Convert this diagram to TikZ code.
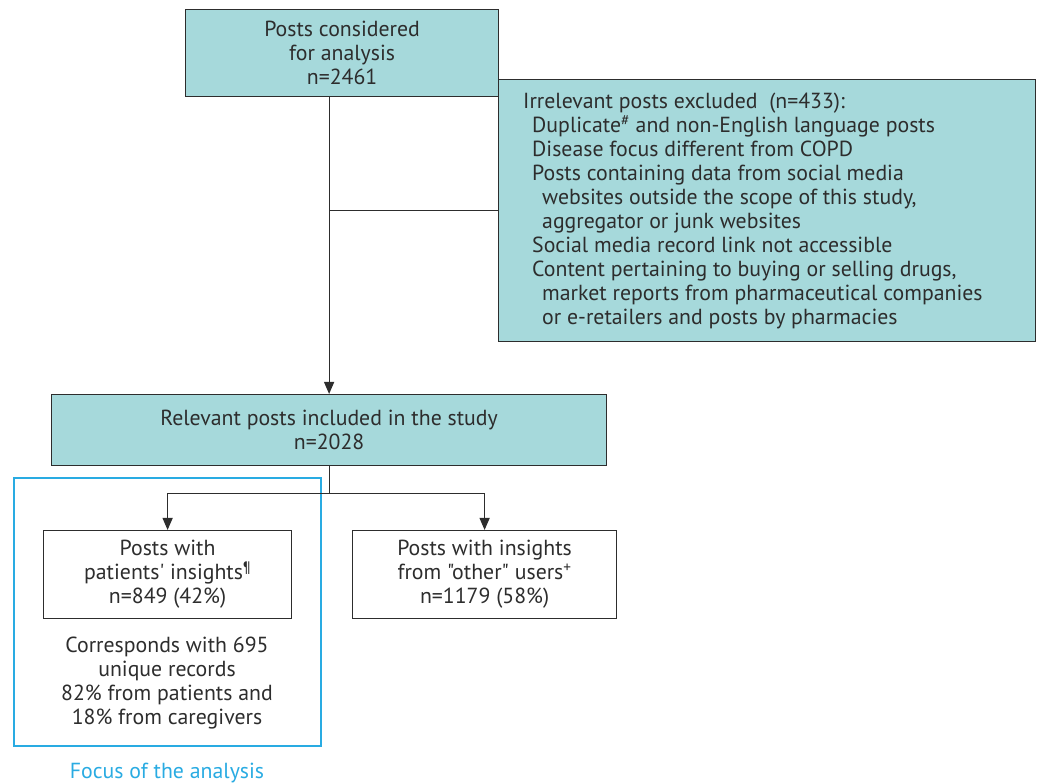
\documentclass[tikz,border=0pt]{standalone}
\usepackage{fontspec}
\setmainfont{PT Sans}[Ligatures=TeXOff]
\usetikzlibrary{arrows.meta}
\definecolor{teal}{RGB}{166,217,219}
\definecolor{txt}{RGB}{45,45,45}
\definecolor{focus}{RGB}{41,171,226}
\tikzset{
  box/.style={draw=txt, line width=1.2pt, inner sep=0pt, align=center, text=txt},
  tealbox/.style={box, fill=teal},
  conn/.style={draw=txt, line width=1.2pt},
  arr/.style={conn, -{Triangle[width=10pt,length=12pt]}},
  lbl/.style={text=txt, align=center, inner sep=0pt},
}
\begin{document}
\begin{tikzpicture}[x=1pt,y=-1pt, font=\fontsize{21.8}{24}\selectfont]
\useasboundingbox (0,0) rectangle (1037,783);
\node[tealbox, minimum width=313, minimum height=87, anchor=north west] (top) at (185,9)
  {Posts considered\\for analysis\\n=2461};
\node[tealbox, minimum width=537, minimum height=262, anchor=north west] (excl) at (498,79) {};
\node[lbl, align=left, anchor=north west] (excltext) at (523,93)
  {Irrelevant posts excluded\ \ (n=433):\\
   \hspace*{9pt}Duplicate\textsuperscript{\#} and non-English language posts\\
   \hspace*{9pt}Disease focus different from COPD\\
   \hspace*{9pt}Posts containing data from social media\\
   \hspace*{19pt}websites outside the scope of this study,\\
   \hspace*{19pt}aggregator or junk websites\\
   \hspace*{9pt}Social media record link not accessible\\
   \hspace*{9pt}Content pertaining to buying or selling drugs,\\
   \hspace*{19pt}market reports from pharmaceutical companies\\
   \hspace*{19pt}or e-retailers and posts by pharmacies};
\node[tealbox, minimum width=555, minimum height=71, anchor=north west] (rel) at (51,394)
  {Relevant posts included in the study\\n=2028};
\node[draw=focus, line width=2pt, minimum width=307, minimum height=268, anchor=north west, inner sep=0pt] (focusbox) at (13,477) {};
\node[box, minimum width=248, minimum height=88, anchor=north west] (left) at (43,530)
  {Posts with\\patients' insights\textsuperscript{¶}\\n=849 (42\%)};
\node[box, minimum width=264, minimum height=88, anchor=north west] (right) at (352,530)
  {Posts with insights\\from "other" users\textsuperscript{+}\\n=1179 (58\%)};
\node[lbl, anchor=north] (corr) at (167,637)
  {Corresponds with 695\\unique records\\82\% from patients and\\18\% from caregivers};
\node[lbl, text=focus] (focuslbl) at (167,773) {Focus of the analysis};
\draw[arr] (top.south -| rel.north) -- (rel.north);
\draw[conn] (excl.west) -- (excl.west -| rel.north);
\draw[conn] (rel.south) -- ++(0,27) coordinate (split);
\draw[arr] (split) -| (left.north);
\draw[arr] (split) -| (right.north);
\end{tikzpicture}
\end{document}
